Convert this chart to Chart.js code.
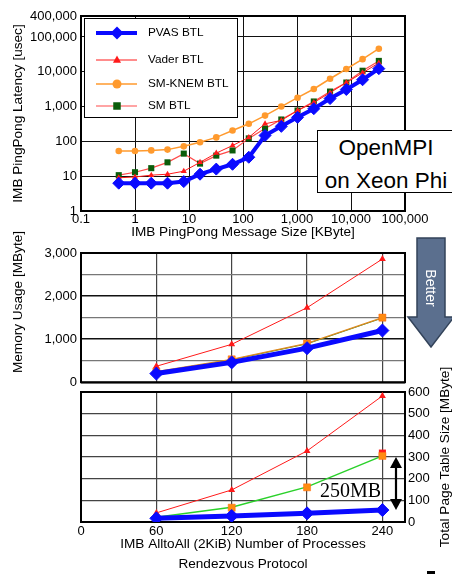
<!DOCTYPE html>
<html><head><meta charset="utf-8">
<script src="https://cdn.jsdelivr.net/npm/chart.js@4.4.1/dist/chart.umd.min.js"></script>
<style>
html,body{margin:0;padding:0;background:#fff;}
body{width:452px;height:574px;position:relative;overflow:hidden;font-family:"Liberation Sans",Arial,Helvetica,sans-serif;color:#000;}
canvas{position:absolute;left:0;}
.ov{position:absolute;white-space:nowrap;}
.rot{position:absolute;text-align:center;transform:rotate(-90deg);font-size:13.6px;line-height:16px;height:16px;white-space:nowrap;}
</style></head><body>
<canvas id="cA" width="452" height="240" style="top:0"></canvas>
<canvas id="cB" width="452" height="154" style="top:240px"></canvas>
<canvas id="cC" width="452" height="194" style="top:380px"></canvas>

<div class="ov" style="left:317px;top:130px;width:136px;height:61px;border:1px solid #000;background:#fff;text-align:center;font-size:22.5px;line-height:33px;">OpenMPI<br>on Xeon Phi</div>

<svg class="ov" style="left:0;top:0" width="452" height="574">
  <polygon points="417,238 445,238 445,317 454,317 431,347 408,317 417,317" fill="#5b6f8e" stroke="#33435a" stroke-width="1.5"/>
  <text x="0" y="0" transform="translate(426,288) rotate(90)" text-anchor="middle" fill="#fff" font-size="14" font-family="Liberation Sans, Arial">Better</text>
  <line x1="396" y1="465" x2="396" y2="502" stroke="#000" stroke-width="2.2"/>
  <polygon points="396,457 390,468 402,468" fill="#000"/>
  <polygon points="396,510 390,499 402,499" fill="#000"/>
  <rect x="427" y="571" width="8" height="3" fill="#000"/>
</svg>
<div class="ov" style="left:320px;top:480px;font-family:'Liberation Serif','Times New Roman',serif;font-size:20px;line-height:20px;">250MB</div>
<div class="rot" style="left:-82px;top:294px;width:200px;">Memory Usage [MByte]</div>
<div class="rot" style="left:330px;top:449px;width:230px;">Total Page Table Size [MByte]</div>

<script>
// ---------- data ----------
const seriesNames = ['PVAS BTL', 'Vader BTL', 'SM-KNEM BTL', 'SM BTL'];
const msgSizeKB = [0.5, 1, 2, 4, 8, 16, 32, 64, 128, 256, 512, 1024, 2048, 4096, 8192, 16384, 32768];
const latPVAS   = [6.3, 6.3, 6.3, 6.3, 7, 11.4, 16, 22, 35, 148, 270, 490, 870, 1700, 3100, 5900, 12300];
const latVader  = [9, 9.5, 10.7, 11.4, 13.9, 25, 46, 76, 130, 320, 400, 770, 1300, 2500, 4900, 9300, 18000];
const latSMKNEM = [53, 53, 55, 58, 72, 94, 130, 205, 320, 550, 1000, 1800, 3200, 6300, 12000, 23000, 46000];
const latSM     = [10.7, 13, 17, 25, 44.5, 23, 39, 55, 122, 235, 425, 770, 1400, 2700, 4900, 10700, 20500];
const latXTicks = [0.1, 1, 10, 100, 1000, 10000, 100000];
const latYTicks = [1, 10, 100, 1000, 10000, 100000, 400000];

const procs      = [60, 120, 180, 240];
const procTicks  = [0, 60, 120, 180, 240];
const memPVAS    = [200, 460, 790, 1200];
const memVader   = [370, 880, 1730, 2860];
const memSMKNEM  = [245, 530, 900, 1500];
const memSM      = [235, 520, 890, 1490];
const ptPVAS     = [17, 28, 40, 55];
const ptVader    = [42, 148, 328, 582];
const ptSMKNEM   = [null, 66, 160, 305];
const ptSM       = [22, 68, 162, 305];
const ptSMmark   = [null, null, null, 318];

// ---------- helpers ----------
const FONT = '"Liberation Sans", Arial, Helvetica, sans-serif';
Chart.defaults.font.family = FONT;
Chart.defaults.font.size = 13;
Chart.defaults.color = '#000';
const fmt = v => Number(v).toLocaleString('en-US');
const xy = (xs, ys) => xs.map((x, i) => ({x: x, y: ys[i]}));

const BLUE = '#0a0aff', RED = '#ff1a1a', ORANGE = '#ff9a2e', SMRED = '#ff4a4a', DKGREEN = '#0b5d0b', GREEN = '#2ad12a';

const frame = {id: 'frame', beforeDatasetsDraw(chart) {
  const {ctx, chartArea: a} = chart;
  ctx.save(); ctx.strokeStyle = '#000'; ctx.lineWidth = 2;
  ctx.strokeRect(a.left, a.top, a.right - a.left, a.bottom - a.top);
  ctx.restore();
}};

function marker(ctx, style, x, y, r) {
  ctx.beginPath();
  if (style === 'rectRot') { ctx.moveTo(x, y - r); ctx.lineTo(x + r, y); ctx.lineTo(x, y + r); ctx.lineTo(x - r, y); ctx.closePath(); }
  else if (style === 'triangle') { ctx.moveTo(x, y - r); ctx.lineTo(x + r * 0.9, y + r * 0.6); ctx.lineTo(x - r * 0.9, y + r * 0.6); ctx.closePath(); }
  else if (style === 'rect') { ctx.rect(x - r * 0.75, y - r * 0.75, r * 1.5, r * 1.5); }
  else { ctx.arc(x, y, r, 0, Math.PI * 2); }
  ctx.fill();
}

const legendBox = {id: 'legendBox', afterDraw(chart) {
  const ctx = chart.ctx; ctx.save();
  ctx.fillStyle = '#fff'; ctx.fillRect(84, 18, 154, 100);
  ctx.strokeStyle = '#000'; ctx.lineWidth = 1; ctx.strokeRect(84.5, 18.5, 153, 99);
  const rows = [33, 60, 84, 106];
  const sizes = [6.5, 4.5, 4.5, 5];
  chart.data.datasets.forEach((ds, i) => {
    const y = rows[i];
    ctx.strokeStyle = ds.borderColor; ctx.lineWidth = ds.borderWidth;
    ctx.beginPath(); ctx.moveTo(96, y); ctx.lineTo(137, y); ctx.stroke();
    ctx.fillStyle = ds.pointBackgroundColor;
    marker(ctx, ds.pointStyle, 117, y, sizes[i]);
    ctx.fillStyle = '#000'; ctx.font = '11.8px ' + FONT; ctx.textBaseline = 'middle';
    ctx.fillText(ds.label, 148, y);
  });
  ctx.restore();
}};

const gridOpts = (color, lw) => ({color: color, lineWidth: lw || 1, drawTicks: false});

// ---------- top chart ----------
new Chart(document.getElementById('cA'), {
  type: 'line',
  data: {datasets: [
    {label: seriesNames[0], data: xy(msgSizeKB, latPVAS), borderColor: BLUE, backgroundColor: BLUE, borderWidth: 4,
     pointStyle: 'rectRot', pointRadius: 6, pointBackgroundColor: BLUE, pointBorderColor: BLUE, pointBorderWidth: 1},
    {label: seriesNames[1], data: xy(msgSizeKB, latVader), borderColor: RED, backgroundColor: RED, borderWidth: 1,
     pointStyle: 'triangle', pointRadius: 3.5, pointBackgroundColor: RED, pointBorderColor: RED, pointBorderWidth: 0},
    {label: seriesNames[2], data: xy(msgSizeKB, latSMKNEM), borderColor: ORANGE, backgroundColor: ORANGE, borderWidth: 1.5,
     pointStyle: 'circle', pointRadius: 3.3, pointBackgroundColor: ORANGE, pointBorderColor: ORANGE, pointBorderWidth: 0},
    {label: seriesNames[3], data: xy(msgSizeKB, latSM), borderColor: SMRED, backgroundColor: SMRED, borderWidth: 1.2,
     pointStyle: 'rect', pointRadius: 4.3, pointBackgroundColor: DKGREEN, pointBorderColor: DKGREEN, pointBorderWidth: 0}
  ]},
  options: {
    responsive: false, animation: false, events: [],
    layout: {padding: {top: 16, right: 47, left: 0, bottom: 0}},
    plugins: {legend: {display: false}, tooltip: {enabled: false}},
    scales: {
      x: {type: 'logarithmic', min: 0.1, max: 100000,
          afterBuildTicks: s => { s.ticks = latXTicks.map(v => ({value: v})); },
          afterFit: s => { s.height = 29; },
          ticks: {callback: v => fmt(v), padding: 1, autoSkip: false, maxRotation: 0, font: {size: 13}},
          grid: gridOpts('#111', 1), border: {display: false},
          title: {display: true, text: 'IMB PingPong Message Size [KByte]', font: {size: 13.6}, padding: {top: 0, bottom: 0}}},
      y: {type: 'logarithmic', min: 1, max: 400000,
          afterBuildTicks: s => { s.ticks = latYTicks.map(v => ({value: v})); },
          afterFit: s => { s.width = 81; },
          ticks: {callback: v => fmt(v), padding: 4, autoSkip: false, font: {size: 13}},
          grid: gridOpts('#111', 1), border: {display: false},
          title: {display: true, text: 'IMB PingPong Latency [usec]', font: {size: 13.6}, padding: {top: 10, bottom: 0}}}
    }
  },
  plugins: [frame, legendBox]
});

// ---------- middle chart ----------
new Chart(document.getElementById('cB'), {
  type: 'line',
  data: {datasets: [
    {label: seriesNames[0], data: xy(procs, memPVAS), borderColor: BLUE, borderWidth: 5,
     pointStyle: 'rectRot', pointRadius: 6.5, pointBackgroundColor: BLUE, pointBorderColor: BLUE, pointBorderWidth: 1},
    {label: seriesNames[1], data: xy(procs, memVader), borderColor: RED, borderWidth: 1,
     pointStyle: 'triangle', pointRadius: 4, pointBackgroundColor: RED, pointBorderColor: RED, pointBorderWidth: 0},
    {label: seriesNames[2], data: xy(procs, memSMKNEM), borderColor: '#e08a20', borderWidth: 1.3,
     pointStyle: 'rect', pointRadius: 5, pointBackgroundColor: '#ff8c10', pointBorderColor: '#ff6010', pointBorderWidth: 0.5},
    {label: seriesNames[3], data: xy(procs, memSM), borderColor: '#3a8a2a', borderWidth: 1, pointRadius: 0}
  ]},
  options: {
    responsive: false, animation: false, events: [],
    layout: {padding: {top: 13, right: 47, left: 0, bottom: 0}},
    plugins: {legend: {display: false}, tooltip: {enabled: false}},
    scales: {
      x: {type: 'linear', min: 0, max: 258,
          afterBuildTicks: s => { s.ticks = procTicks.map(v => ({value: v})); },
          afterFit: s => { s.height = 11; },
          ticks: {display: false},
          grid: gridOpts('#444', 1.2), border: {display: false}},
      y: {type: 'linear', min: 0, max: 3000,
          ticks: {stepSize: 500, callback: v => (v % 1000 === 0 ? fmt(v) : ''), padding: 4, autoSkip: false, font: {size: 13}},
          afterFit: s => { s.width = 81; },
          grid: {drawTicks: false, color: c => (c.tick && c.tick.value % 1000 === 0 ? '#111' : '#777'), lineWidth: c => (c.tick && c.tick.value % 1000 === 0 ? 1.4 : 1.2)},
          border: {display: false}}
    }
  },
  plugins: [frame]
});

// ---------- bottom chart ----------
new Chart(document.getElementById('cC'), {
  type: 'line',
  data: {datasets: [
    {label: seriesNames[0], data: xy(procs, ptPVAS), borderColor: BLUE, borderWidth: 5,
     pointStyle: 'rectRot', pointRadius: 6.5, pointBackgroundColor: BLUE, pointBorderColor: BLUE, pointBorderWidth: 1},
    {label: seriesNames[1], data: xy(procs, ptVader), borderColor: RED, borderWidth: 1,
     pointStyle: 'triangle', pointRadius: 4, pointBackgroundColor: RED, pointBorderColor: RED, pointBorderWidth: 0},
    {label: seriesNames[2], data: xy(procs, ptSMKNEM), showLine: false, borderColor: '#ff8c10',
     pointStyle: 'rect', pointRadius: 5, pointBackgroundColor: '#ff8c10', pointBorderColor: '#ff6a10', pointBorderWidth: 0.5},
    {label: seriesNames[3], data: xy(procs, ptSM), borderColor: GREEN, borderWidth: 1.5, pointRadius: 0},
    {label: seriesNames[3] + ' marker', data: xy(procs, ptSMmark), showLine: false, borderColor: RED,
     pointStyle: 'rect', pointRadius: 5, pointBackgroundColor: RED, pointBorderColor: RED, pointBorderWidth: 0}
  ]},
  options: {
    responsive: false, animation: false, events: [],
    layout: {padding: {top: 12, right: 0, left: 81, bottom: 0}},
    plugins: {legend: {display: false}, tooltip: {enabled: false}},
    scales: {
      x: {type: 'linear', min: 0, max: 258,
          afterBuildTicks: s => { s.ticks = procTicks.map(v => ({value: v})); },
          afterFit: s => { s.height = 52; },
          ticks: {padding: 2, autoSkip: false, maxRotation: 0, font: {size: 13}},
          grid: gridOpts('#444', 1.2), border: {display: false},
          title: {display: true, text: ['IMB AlltoAll (2KiB) Number of Processes', 'Rendezvous Protocol'],
                  font: {size: 13.6, lineHeight: '20px'}, padding: {top: 0, bottom: 0}}},
      y: {type: 'linear', position: 'right', min: 0, max: 600,
          afterFit: s => { s.width = 47; },
          ticks: {stepSize: 100, padding: 3, autoSkip: false, font: {size: 13}},
          grid: gridOpts('#444', 1.2), border: {display: false}}
    }
  },
  plugins: [frame]
});
</script>
</body></html>
